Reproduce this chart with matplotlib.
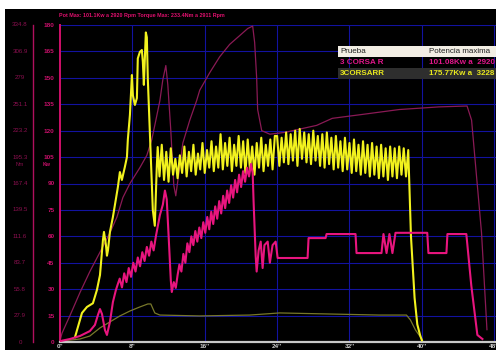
import matplotlib
matplotlib.use("Agg")
import matplotlib.pyplot as plt
from matplotlib.patches import Rectangle

# ---- data -----------------------------------------------------------------
# power run "3CORSARR" (kW vs seconds)
yellow_t = [1.66, 2.43, 2.98, 3.64, 4.08, 4.42, 4.64, 4.75, 4.86, 5.08, 5.19, 5.3, 5.52,
            5.85, 6.4, 6.62, 6.84, 7.17, 7.4, 7.5, 7.73, 7.95, 8.06, 8.28, 8.5, 8.6,
            8.83, 9.05, 9.16, 9.27, 9.49, 9.6, 9.71, 9.93, 10.15, 10.26, 10.48, 10.7,
            10.8,
            11.0, 11.25, 11.5, 11.75, 12.0, 12.25, 12.5, 12.75, 13.0, 13.25, 13.5, 13.75,
            14.0, 14.25, 14.5, 14.75, 15.0, 15.25, 15.5, 15.75, 16.0, 16.25, 16.5, 16.75,
            17.0, 17.25, 17.5, 17.75, 18.0, 18.25, 18.5, 18.75, 19.0, 19.25, 19.5, 19.75,
            20.0, 20.25, 20.5, 20.75, 21.0, 21.25, 21.5, 21.75, 22.0, 22.25, 22.5, 22.75,
            23.0, 23.25, 23.5, 23.75, 24.0, 24.25, 24.5, 24.75, 25.0, 25.25, 25.5, 25.75,
            26.0, 26.25, 26.5, 26.75, 27.0, 27.25, 27.5, 27.75, 28.0, 28.25, 28.5, 28.75,
            29.0, 29.25, 29.5, 29.75, 30.0, 30.25, 30.5, 30.75, 31.0, 31.25, 31.5, 31.75,
            32.0, 32.25, 32.5, 32.75, 33.0, 33.25, 33.5, 33.75, 34.0, 34.25, 34.5, 34.75,
            35.0, 35.25, 35.5, 35.75, 36.0, 36.25, 36.5, 36.75, 37.0, 37.25, 37.5, 37.75,
            38.0, 38.25, 38.5, 38.8, 39.2, 39.5, 39.8, 40.0]
yellow_v = [2.8, 16.5, 19.9, 22, 29.5, 38, 51, 58, 62.5, 55, 49, 52, 62.5,
            71, 88, 96.5, 92, 99.4, 105, 115, 129, 151.6, 140, 134.6, 138.5, 161,
            164.7, 165.8, 159, 146, 175.77, 173, 149, 118.7, 90, 75, 66, 99.4,
            110.7,
            94, 112, 92, 108, 91, 110, 95, 104, 93, 106, 96, 111,
            94, 108, 97, 112, 95, 107, 98, 113, 96, 109, 99, 114,
            97, 111, 99, 118, 98, 113, 100, 116, 97, 112, 100, 117,
            99, 114, 96, 115, 98, 111, 95, 113, 99, 116, 97, 112,
            100, 115, 98, 117, 117, 100, 116, 102, 119, 101, 118, 103,
            120, 100, 121, 104, 119, 102, 118, 101, 120, 103, 117, 100,
            118, 99, 119, 101, 116, 98, 117, 99, 114, 97, 116, 98,
            113, 96, 115, 97, 112, 95, 114, 96, 112, 94, 113, 95,
            111, 93, 112, 94, 110, 92, 111, 94, 110, 93, 111, 95,
            110, 94, 109, 60, 25, 10, 4, 1]

# power run "3 CORSA R"
pink_t = [0, 1.1, 2.2, 3.3, 3.86, 4.19, 4.42, 4.64, 4.97, 5.19, 5.52, 5.85, 6.18, 6.4,
          6.6, 6.85, 7.1, 7.35, 7.6, 7.85, 8.1, 8.35, 8.6, 8.85, 9.1, 9.35, 9.6, 9.85,
          10.1, 10.35, 10.6, 11.04, 11.37, 11.6, 11.8, 12.03, 12.25, 12.36, 12.58, 12.8,
          13.0,
          13.2, 13.42, 13.64, 13.86, 14.08, 14.3, 14.52, 14.74, 14.96, 15.18, 15.4, 15.62,
          15.84, 16.06, 16.28, 16.5, 16.72, 16.94, 17.16, 17.38, 17.6, 17.82, 18.04, 18.26,
          18.48, 18.7, 18.92, 19.14, 19.36, 19.58, 19.8, 20.02, 20.24, 20.46, 20.68, 20.9,
          21.12, 21.3, 21.4, 21.63, 21.74, 21.96, 22.19, 22.4, 22.6, 22.96, 23.2, 23.5,
          23.84, 24.06, 27.37, 27.48, 29.36, 29.47, 32.67, 32.78, 35.54, 35.76, 36.1,
          36.42, 36.75, 37.09, 40.6, 40.73, 42.72, 42.83, 44.92, 45.47, 46.14, 46.7]
pink_v = [0.5, 1.7, 3.4, 6.2, 9.7, 15.3, 18.7, 15.9, 6.8, 4.0, 11.4, 22.7, 29.5, 33,
          36, 31, 39, 34, 42, 37, 45, 40, 48, 43, 51, 46, 54, 49,
          57, 52, 60, 72, 78, 86, 81, 58, 35, 28.4, 34, 30.7,
          38,
          44, 40, 50, 45, 56, 51, 60, 55, 63, 57, 65, 59,
          68, 62, 71, 64, 74, 67, 77, 70, 80, 73, 83, 76,
          86, 79, 89, 82, 92, 85, 95, 88, 97, 91, 99, 94,
          101.08, 96, 80, 49, 40, 52, 57, 42, 55, 57, 45, 55,
          57, 47.7, 47.7, 59, 59, 61.3, 61.3, 50.5, 50.5, 61.3, 50.5,
          61.3, 50.5, 62, 62, 50.5, 50.5, 61.3, 61.3, 32, 4, 1.7]

# engine speed trace, run "3 CORSA R" (plotted on the power scale)
rpm_t = [0, 0.22, 1.1, 2.2, 3.3, 4.42, 5.52, 6.3, 6.95, 7.73, 8.83, 9.6, 10.15, 10.6,
         11.04, 11.37, 11.7, 11.92, 12.25, 12.58, 12.8, 13.25, 13.58, 14.35, 15.1, 15.45,
         16.56, 17.66, 18.76, 19.87, 20.75, 21.3, 21.52, 21.74, 21.85, 22.3, 23.2, 24.83,
         28.37, 30.1, 33.1, 37.5, 41.9, 45.0, 45.5, 46.6, 47.2]
rpm_v = [0.5, 5, 15, 28, 40, 51, 62, 71, 82, 90, 99, 106, 115, 126,
         137, 149, 157, 146, 120, 89, 83, 100, 113, 126, 137, 143,
         153, 162, 169, 174, 178, 179.4, 170, 150, 132, 120, 118, 119,
         123, 127, 129, 132, 133.5, 134, 126, 62, 7]

# speed trace, run "3CORSARR"
olive_t = [0, 2.2, 3.3, 4.42, 5.52, 6.62, 7.73, 8.83, 9.71, 10.04, 10.48, 11.04, 15.45,
           20.97, 24.28, 29.8, 35.3, 38.3, 38.74, 39.3, 39.85, 40.07]
olive_v = [0.5, 1.7, 3.4, 8, 11.4, 14.8, 17.6, 19.9, 21.6, 21.6, 16.5, 15.3, 14.8,
           15.3, 16.5, 15.9, 15.3, 15.3, 12.5, 6.8, 2.8, 1.1]

power_ticks = [0, 15, 30, 45, 60, 75, 90, 105, 120, 135, 150, 165, 180]
torque_labels = ["0", "27.9", "55.8", "83.7", "111.6", "139.5", "167.4", "195.3",
                 "223.2", "251.1", "279", "306.9", "334.8"]
time_ticks = [0, 8, 16, 24, 32, 40, 48]
time_labels = ["0''", "8''", "16''", "24''", "32''", "40''", "48''"]

title_text = "Pot Max: 101.1Kw a 2920 Rpm Torque Max: 233.4Nm a 2911 Rpm"
table_header = ["Prueba", "Potencia maxima"]
table_rows = [("3 CORSA R", "101.08Kw a  2920"), ("3CORSARR", "175.77Kw a  3228")]

# ---- figure -----------------------------------------------------------------
W, H = 496, 350
plt.rcParams["font.family"] = ["Liberation Sans", "DejaVu Sans"]
fig = plt.figure(figsize=(W / 100, H / 100), dpi=100, facecolor="white")


def fx(px):
    return px / W


def fy(py):
    return 1 - py / H


# black panel behind everything
fig.patches.append(Rectangle((fx(5), 0), 1 - fx(5), fy(9), transform=fig.transFigure,
                             facecolor="black", edgecolor="none", zorder=-10))

ax = fig.add_axes([fx(60), 1 - 342 / H, 436 / W, 317 / H])
ax.set_facecolor("black")
ax.set_xlim(0, 48.2)
ax.set_ylim(0, 180)

grid_col = "#1212a0"
for v in power_ticks[1:]:
    ax.axhline(v, color=grid_col, lw=0.8, zorder=1)
for t in time_ticks[1:]:
    ax.axvline(t, color=grid_col, lw=0.8, zorder=1)

ax.plot(olive_t, olive_v, color="#78782a", lw=0.9, zorder=2)
ax.plot(rpm_t, rpm_v, color="#8a1a55", lw=0.9, zorder=2)
ax.plot(yellow_t, yellow_v, color="#f2f21e", lw=1.5, zorder=3, solid_joinstyle="round")
ax.plot(pink_t, pink_v, color="#e8157e", lw=1.5, zorder=4, solid_joinstyle="round")

for s in ["top", "right"]:
    ax.spines[s].set_visible(False)
ax.spines["left"].set_color("#d0106a")
ax.spines["left"].set_linewidth(1.4)
ax.spines["bottom"].set_color("#c8c8c8")
ax.spines["bottom"].set_linewidth(1.6)

ax.set_yticks(power_ticks)
ax.set_yticklabels([str(v) for v in power_ticks])
ax.tick_params(axis="y", length=0, pad=4, labelsize=4.6, labelcolor="#c8106a")
for lab in ax.get_yticklabels():
    lab.set_fontweight("bold")
ax.set_xticks(time_ticks)
ax.set_xticklabels(time_labels)
ax.tick_params(axis="x", length=0, pad=1.5, labelsize=4.6, labelcolor="#d0d0d0")
for lab in ax.get_xticklabels():
    lab.set_fontweight("bold")

# outer torque scale
outer_x = (33 - 60) / 436
ax.plot([outer_x, outer_x], [0, 180], transform=ax.get_yaxis_transform(),
        color="#b0105e", lw=1.0, clip_on=False, zorder=5)
for v, lab in zip(power_ticks, torque_labels):
    ax.text((20 - 60) / 436, v, lab, transform=ax.get_yaxis_transform(),
            ha="center", va="center", fontsize=4.4, color="#8c1050")
ax.text((20 - 60) / 436, 101, "Nm", transform=ax.get_yaxis_transform(),
        ha="center", va="center", fontsize=3.8, color="#8c1050")
ax.text((47 - 60) / 436, 101, "Kw", transform=ax.get_yaxis_transform(),
        ha="center", va="center", fontsize=3.8, color="#c8106a", fontweight="bold")

# header line
fig.text(fx(59), fy(16), title_text, ha="left", va="center", fontsize=3.9,
         color="#e0106e", fontweight="bold")

# results table
fig.patches.append(Rectangle((fx(338), fy(57)), 1 - fx(338), fy(46) - fy(57),
                             transform=fig.transFigure, facecolor="#f2eee4",
                             edgecolor="none", zorder=6))
fig.patches.append(Rectangle((fx(338), fy(79)), 1 - fx(338), fy(68) - fy(79),
                             transform=fig.transFigure, facecolor="#2e2e2e",
                             edgecolor="none", zorder=6))
fig.text(fx(340), fy(51.5), table_header[0], ha="left", va="center", fontsize=5.8,
         color="#202020", zorder=7)
fig.text(fx(429), fy(51.5), table_header[1], ha="left", va="center", fontsize=5.8,
         color="#202020", zorder=7)
row_colors = ["#e0168a", "#e8e81e"]
row_y = [62, 73.5]
for (name, power), col, yy in zip(table_rows, row_colors, row_y):
    fig.text(fx(340), fy(yy), name, ha="left", va="center", fontsize=5.8,
             color=col, fontweight="bold", zorder=7)
    fig.text(fx(429), fy(yy), power, ha="left", va="center", fontsize=5.8,
             color=col, fontweight="bold", zorder=7)

fig.savefig("out.png", dpi=100, facecolor="white")
